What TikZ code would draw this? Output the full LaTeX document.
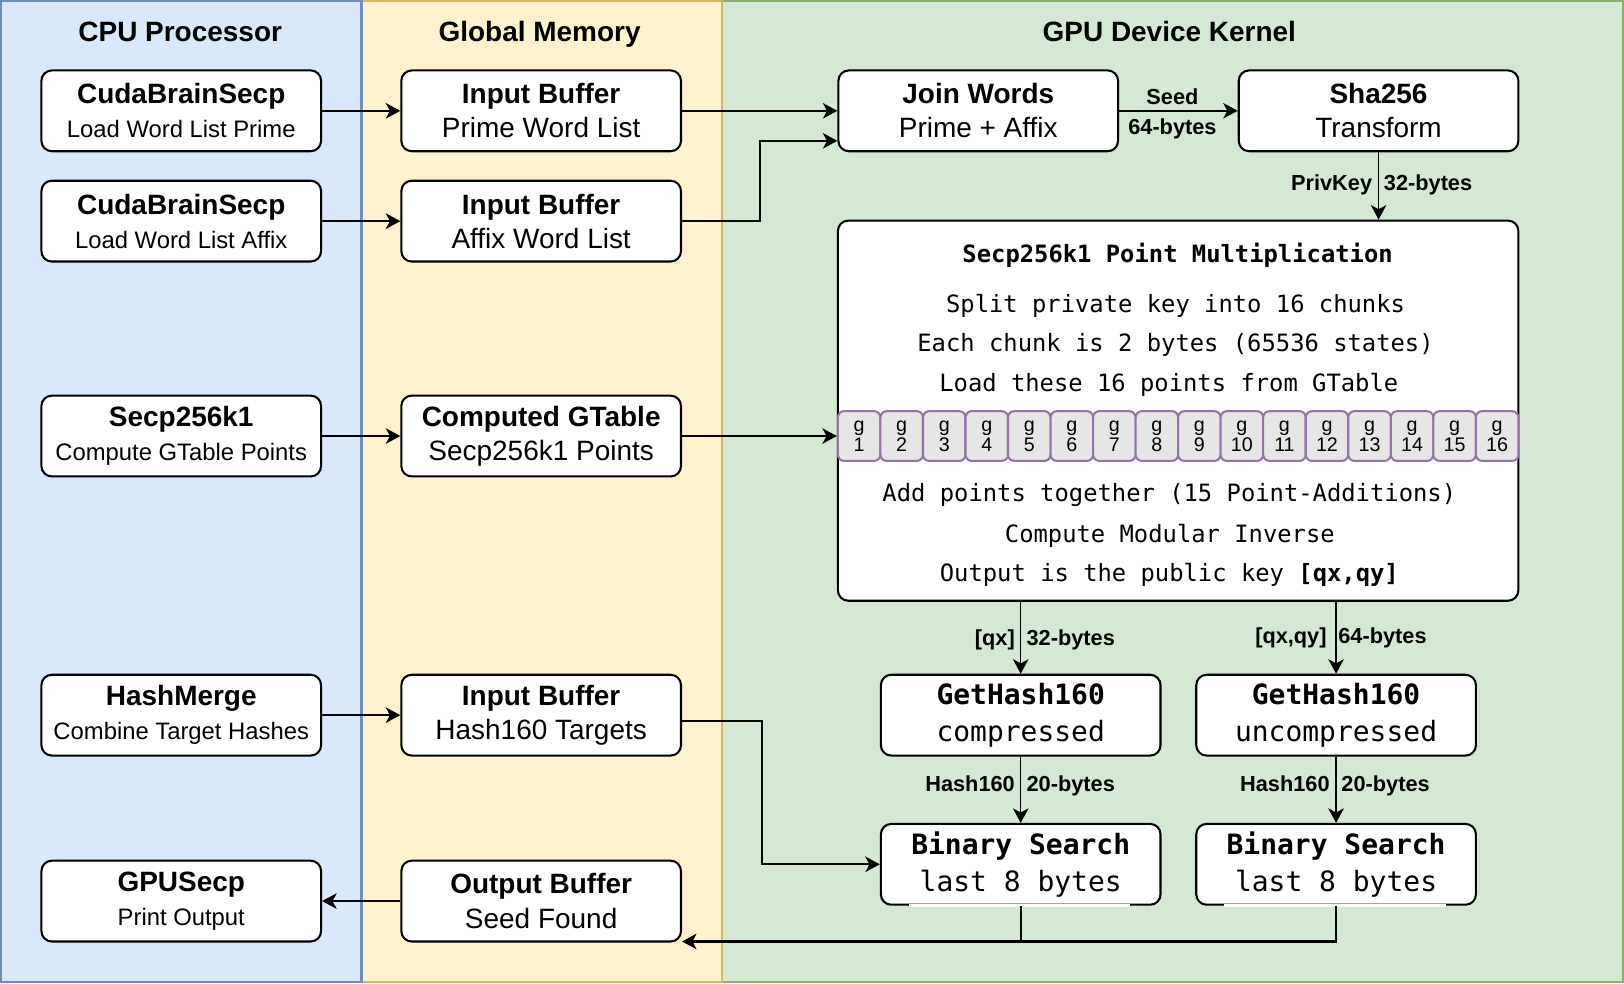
\documentclass[tikz,border=0pt]{standalone}
\usepackage{fontspec}
\setmainfont{Liberation Sans}
\newfontfamily\monofam{DejaVu Sans Mono}
\usetikzlibrary{arrows.meta}
\definecolor{cpuF}{HTML}{DAE8FC}\definecolor{cpuD}{HTML}{6C8EBF}
\definecolor{gmF}{HTML}{FFF2CC}\definecolor{gmD}{HTML}{D6B656}
\definecolor{gpuF}{HTML}{D5E8D4}\definecolor{gpuD}{HTML}{82B366}
\definecolor{gF}{HTML}{E6E6E6}\definecolor{gD}{HTML}{9673A6}
\tikzset{
  box/.style={draw, line width=2pt, rounded corners=10pt, fill=white,
    minimum width=270pt, minimum height=78pt, align=center, inner sep=0pt,
    font=\fontsize{27}{33}\selectfont},
  cpubox/.style={box},
  monobox/.style={box, font=\monofam\fontsize{27}{36}\selectfont},
  gcell/.style={draw=gD, fill=gF, line width=2pt, rounded corners=6pt,
    minimum width=41.06pt, minimum height=48pt, inner sep=0pt, align=center,
    font=\fontsize{19}{19}\selectfont},
  coltitle/.style={anchor=base, font=\bfseries\fontsize{27}{33}\selectfont},
  pmtext/.style={anchor=base, font=\monofam\fontsize{23}{28}\selectfont},
  elab/.style={font=\bfseries\fontsize{21}{25}\selectfont, inner sep=0pt},
  thk/.style={line width=2pt},
  thn/.style={line width=1.3pt},
  arr/.style={-{Stealth[length=14pt, width=15pt, inset=4pt]}},
}
\begin{document}
\begin{tikzpicture}[x=1pt, y=-1pt]
\useasboundingbox (0,0) rectangle (1568,950);
% columns
\draw[fill=gpuF, draw=gpuD, line width=2pt] (697,1) rectangle (1567,948);
\draw[fill=gmF, draw=gmD, line width=2pt] (349,1) rectangle (697,948);
\draw[fill=cpuF, draw=cpuD, line width=2pt] (1,1) rectangle (349,948);
\node[coltitle] (tcpu) at (174,39.7) {CPU Processor};
\node[coltitle] (tgm) at (521,39.7) {Global Memory};
\node[coltitle] (tgpu) at (1129,39.7) {GPU Device Kernel};

% CPU boxes
\node[cpubox] (cpu1) at (175,107) {\textbf{CudaBrainSecp}\\{\fontsize{23}{33}\selectfont Load Word List Prime}};
\node[cpubox] (cpu2) at (175,213.5) {\textbf{CudaBrainSecp}\\{\fontsize{23}{33}\selectfont Load Word List Affix}};
\node[cpubox] (cpu3) at (175,421) {\textbf{Secp256k1}\\{\fontsize{23}{33}\selectfont Compute GTable Points}};
\node[cpubox] (cpu4) at (175,690.5) {\textbf{HashMerge}\\{\fontsize{23}{33}\selectfont Combine Target Hashes}};
\node[cpubox] (cpu5) at (175,870) {\textbf{GPUSecp}\\{\fontsize{23}{33}\selectfont Print Output}};

% Global memory boxes
\node[box] (gm1) at (522.5,107) {\textbf{Input Buffer}\\Prime Word List};
\node[box] (gm2) at (522.5,213.5) {\textbf{Input Buffer}\\Affix Word List};
\node[box] (gm3) at (522.5,421) {\textbf{Computed GTable}\\Secp256k1 Points};
\node[box] (gm4) at (522.5,690.5) {\textbf{Input Buffer}\\Hash160 Targets};
\node[box] (gm5) at (522.5,870) {\textbf{Output Buffer}\\Seed Found};

% GPU boxes
\node[box] (join) at (944.5,107) {\textbf{Join Words}\\Prime + Affix};
\node[box] (sha) at (1331,107) {\textbf{Sha256}\\Transform};
\node[box, minimum width=657pt, minimum height=367pt] (pm) at (1137.5,396.5) {};
\node[pmtext, font=\monofam\bfseries\fontsize{23}{28}\selectfont] (pmt) at (1137,253) {Secp256k1 Point Multiplication};
\node[pmtext] (pl1) at (1135,301.4) {Split private key into 16 chunks};
\node[pmtext] (pl2) at (1135,339.6) {Each chunk is 2 bytes (65536 states)};
\node[pmtext] (pl3) at (1128.5,378.4) {Load these 16 points from GTable};
\node[pmtext] (pl4) at (1129,484.6) {Add points together (15 Point-Additions)};
\node[pmtext] (pl5) at (1129.5,523.4) {Compute Modular Inverse};
\node[pmtext] (pl6) at (1129,561.6) {Output is the public key \textbf{[qx,qy]}};
\foreach \i in {1,...,16}{
  \node[gcell] (g\i) at ({809+(\i-0.5)*41.0625},421) {g\\\i};
}
\node[monobox] (gh1) at (985.5,690.5) {\textbf{GetHash160}\\compressed};
\node[monobox] (gh2) at (1290,690.5) {\textbf{GetHash160}\\uncompressed};
\node[monobox] (bs1) at (985.5,834.5) {\textbf{Binary Search}\\last 8 bytes};
\node[monobox] (bs2) at (1290,834.5) {\textbf{Binary Search}\\last 8 bytes};
\fill[white] ([xshift=28pt,yshift=2pt]bs1.south west) rectangle ([xshift=-30pt,yshift=-1.2pt]bs1.south east);
\fill[white] ([xshift=28pt,yshift=2pt]bs2.south west) rectangle ([xshift=-30pt,yshift=-1.2pt]bs2.south east);

% connectors CPU -> GM
\draw[thk,arr] (cpu1.east) -- (gm1.west);
\draw[thk,arr] (cpu2.east) -- (gm2.west);
\draw[thk,arr] (cpu3.east) -- (gm3.west);
\draw[thk,arr] (cpu4.east) -- (gm4.west);
\draw[thk,arr] (gm5.west) -- (cpu5.east);

% GM -> GPU
\draw[thk,arr] (gm1.east) -- (join.west);
\draw[thk,arr] (gm2.east) -- ++(75,0) |- ([yshift=-29pt]join.west);
\draw[thk,arr] (gm3.east) -- (g1.west);
\draw[thk,arr] ([yshift=-5.5pt]gm4.east) -- ++(77,0) |- (bs1.west);

% GPU internal
\draw[thk,arr] (join.east) -- (sha.west);
\node[elab, anchor=base] (lseed) at (1132,100.5) {Seed};
\node[elab, anchor=base] (l64a) at (1132,129.5) {64-bytes};
\draw[thn,arr] (sha.south) -- (sha.south |- pm.north);
\node[elab, anchor=base east] (lpk) at (1325,183.5) {PrivKey};
\node[elab, anchor=base west] (l32a) at (1336,183.5) {32-bytes};
\draw[thn,arr] (gh1.north |- pm.south) -- (gh1.north);
\node[elab, anchor=base east] (lqx) at (980,623.5) {[qx]};
\node[elab, anchor=base west] (l32b) at (991,623.5) {32-bytes};
\draw[thn,arr] (gh2.north |- pm.south) -- (gh2.north);
\node[elab, anchor=base east] (lqxy) at (1281,621.5) {[qx,qy]};
\node[elab, anchor=base west] (l64b) at (1292,621.5) {64-bytes};
\draw[thn,arr] (gh1.south) -- (bs1.north);
\node[elab, anchor=base east] (lh1) at (980,764.5) {Hash160};
\node[elab, anchor=base west] (l20a) at (991,764.5) {20-bytes};
\draw[thn,arr] (gh2.south) -- (bs2.north);
\node[elab, anchor=base east] (lh2) at (1284,764.5) {Hash160};
\node[elab, anchor=base west] (l20b) at (1295,764.5) {20-bytes};

% return to output buffer
\coordinate (ret) at ([yshift=1pt]gm5.south east);
\draw[thk] (bs1.south) -- (bs1.south |- ret);
\draw[thk,arr] (bs2.south) |- (ret);
\end{tikzpicture}
\end{document}
